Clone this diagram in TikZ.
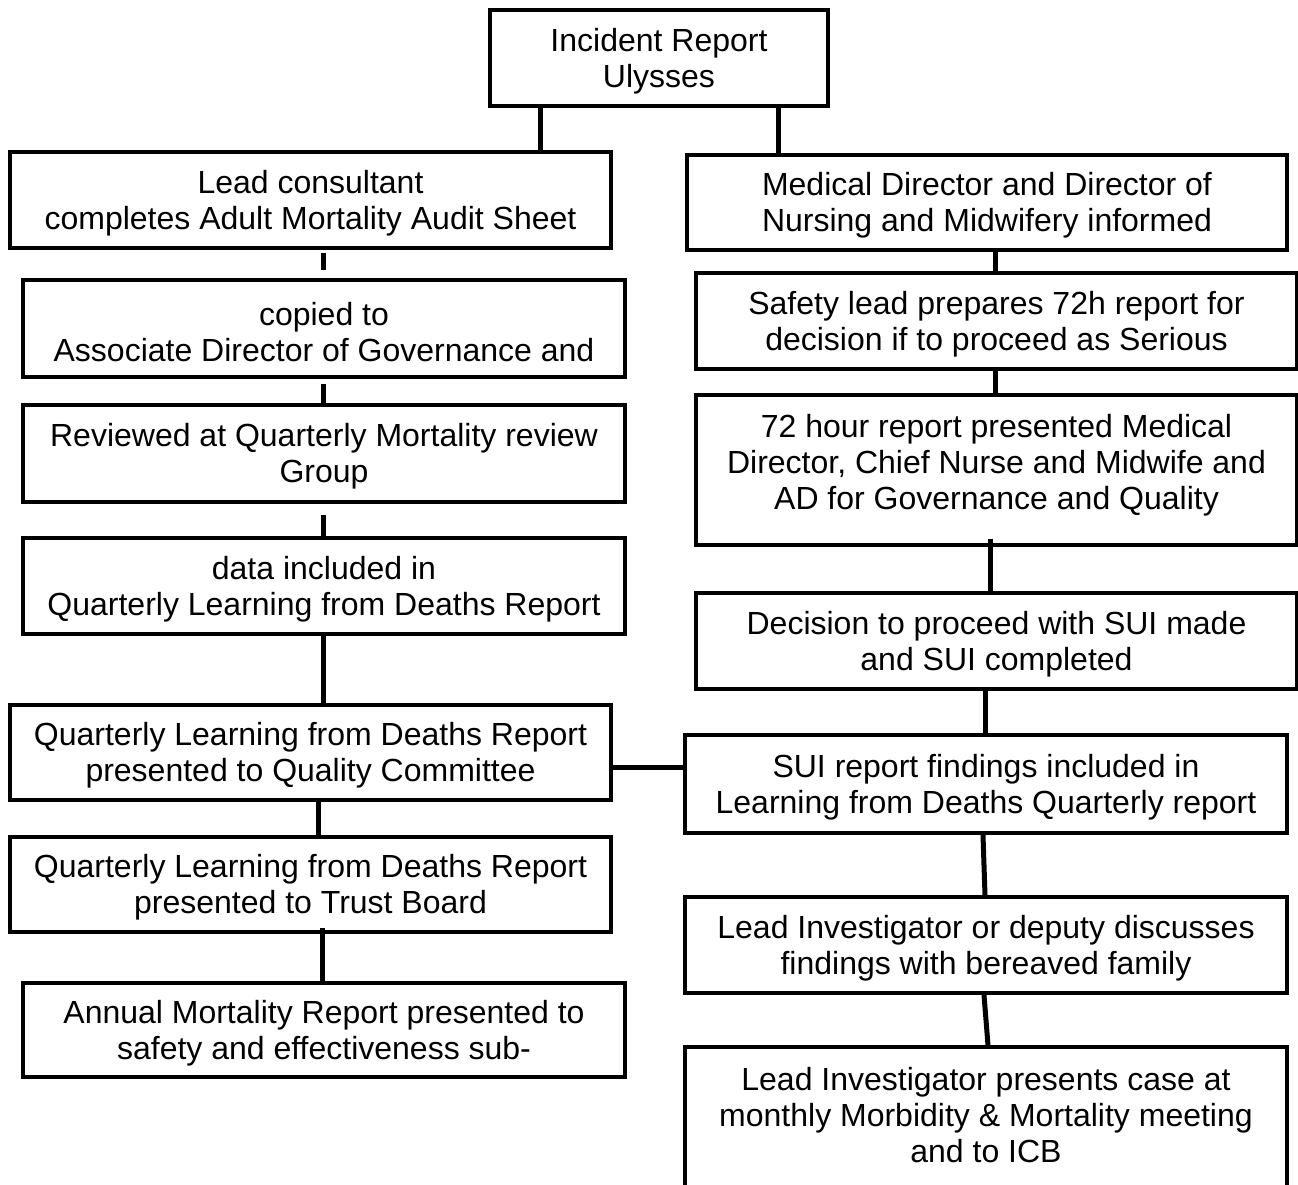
\documentclass[tikz,border=0pt]{standalone}
\usepackage{fontspec}
\setmainfont{Liberation Sans}
\usetikzlibrary{calc}
\begin{document}
\begin{tikzpicture}[x=0.5pt,y=-0.5pt,
  stepbox/.style={draw=black, line width=1.9pt, rectangle, inner sep=0pt},
  txt/.style={inner sep=0pt, align=center, font=\fontsize{16pt}{18pt}\selectfont},
  lbl/.style={txt, yshift=-1.6pt},
  conn/.style={draw=black, line width=2.5pt}]
\clip (0,0) rectangle (1298,1185);
\fill[white] (0,0) rectangle (1298,1185);
% top
\node[stepbox, minimum width=169pt, minimum height=48pt, label={[lbl]center:{Incident Report\\Ulysses}}] (inc) at (659,58) {};
% left column
\node[stepbox, minimum width=300.5pt, minimum height=48pt, label={[lbl]center:{Lead consultant\\completes Adult Mortality Audit Sheet}}] (L1) at (310.5,200) {};
\node[stepbox, minimum width=301pt, minimum height=48.5pt, label={[lbl]center:{copied to\\Associate Director of Governance and}}] (L2) at (324,328.5) {};
\node[stepbox, minimum width=301pt, minimum height=48.5pt, label={[lbl]center:{Reviewed at Quarterly Mortality review\\Group}}] (L3) at (324,453.5) {};
\node[stepbox, minimum width=301pt, minimum height=48pt, label={[lbl]center:{data included in\\Quarterly Learning from Deaths Report}}] (L4) at (324,586) {};
\node[stepbox, minimum width=300.5pt, minimum height=47.5pt, label={[lbl]center:{Quarterly Learning from Deaths Report\\presented to Quality Committee}}] (QC) at (310.5,752.5) {};
\node[stepbox, minimum width=300.5pt, minimum height=47.5pt, label={[lbl]center:{Quarterly Learning from Deaths Report\\presented to Trust Board}}] (TB) at (310.5,884.5) {};
\node[stepbox, minimum width=301pt, minimum height=47pt, label={[lbl]center:{Annual Mortality Report presented to\\safety and effectiveness sub-}}] (AN) at (324,1030) {};
% right column
\node[stepbox, minimum width=300pt, minimum height=47.5pt, label={[lbl]center:{Medical Director and Director of\\Nursing and Midwifery informed}}] (R1) at (987,202.5) {};
\node[stepbox, minimum width=300.5pt, minimum height=48pt, label={[lbl]center:{Safety lead prepares 72h report for\\decision if to proceed as Serious}}] (R2) at (996.5,321) {};
\node[stepbox, minimum width=300.5pt, minimum height=75pt] (R3) at (996.5,470) {};
\node[txt] (R3t) at (996.5,465) {72 hour report presented Medical\\Director, Chief Nurse and Midwife and\\AD for Governance and Quality};
\node[stepbox, minimum width=300.5pt, minimum height=48pt, label={[lbl]center:{Decision to proceed with SUI made\\and SUI completed}}] (R4) at (996.5,641) {};
\node[stepbox, minimum width=301pt, minimum height=49pt, label={[lbl]center:{SUI report findings included in\\Learning from Deaths Quarterly report}}] (SUI) at (986,784) {};
\node[stepbox, minimum width=301pt, minimum height=48pt, label={[lbl]center:{Lead Investigator or deputy discusses\\findings with bereaved family}}] (LID) at (986,945) {};
\node[stepbox, minimum width=301pt, minimum height=74pt] (LIP) at (986,1121) {};
\node[txt] (LIPt) at (986,1115.5) {Lead Investigator presents case at\\monthly Morbidity \& Mortality meeting\\and to ICB};
% connectors
\draw[conn] ($(inc.south)+(-119,0)$) -- ($(L1.north)+(229.5,0)$);
\draw[conn] ($(inc.south)+(119,0)$) -- ($(R1.north)+(-209,0)$);
\draw[conn] ($(L1.south)+(12.5,3)$) -- ($(L2.north)+(-1,-8)$);
\draw[conn] ($(L2.south)+(-1,5)$) -- ($(L3.north)+(-1,0)$);
\draw[conn] ($(L3.south)+(-1,11)$) -- ($(L4.north)+(-1,0)$);
\draw[conn] ($(L4.south)+(-1,0)$) -- ($(QC.north)+(12.5,0)$);
\draw[conn] ($(QC.south)+(7.5,0)$) -- ($(TB.north)+(7.5,0)$);
\draw[conn] ($(TB.south)+(11.5,-6)$) -- ($(AN.north)+(-2,0)$);
\draw[conn] ($(R1.south)+(8,0)$) -- ($(R2.north)+(-1.5,0)$);
\draw[conn] ($(R2.south)+(-1.5,0)$) -- ($(R3.north)+(-1.5,0)$);
\draw[conn] ($(R3.south)+(-6.5,-8)$) -- ($(R4.north)+(-6.5,0)$);
\draw[conn] ($(R4.south)+(-11.5,0)$) -- ($(SUI.north)+(-1,0)$);
\draw[conn] ($(SUI.south)+(-3,0)$) -- ($(LID.north)+(-1,0)$);
\draw[conn] ($(LID.south)+(-2,0)$) -- ($(LIP.north)+(2,0)$);
\draw[conn] ($(QC.east)+(0,14.5)$) -- ($(SUI.west)+(0,-17)$);
\end{tikzpicture}
\end{document}
